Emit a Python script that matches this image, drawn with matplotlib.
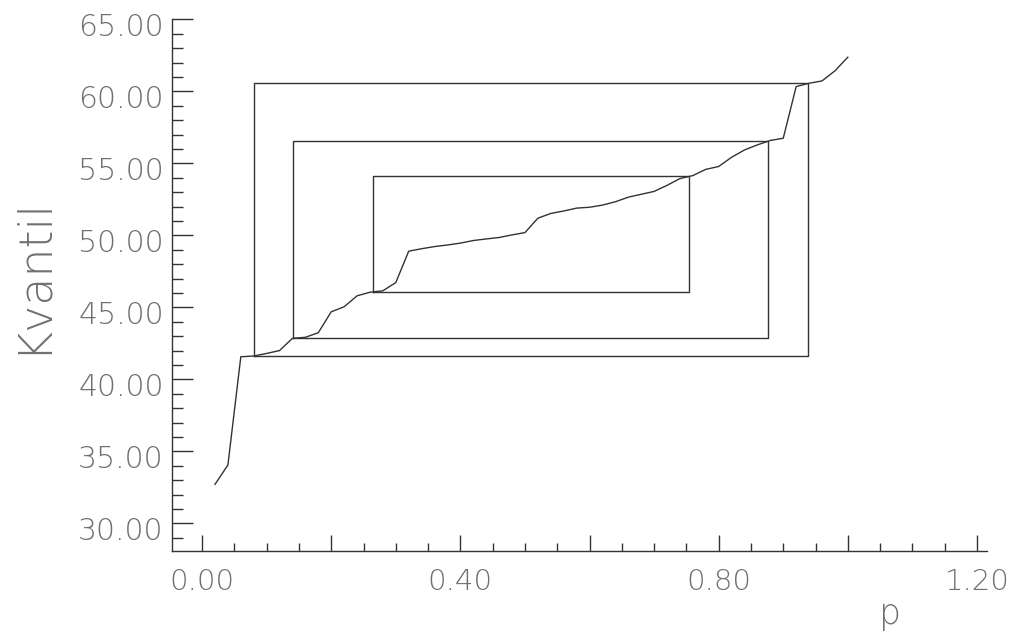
import matplotlib
matplotlib.use("Agg")
import matplotlib.pyplot as plt
import matplotlib.transforms as mtransforms
from matplotlib.ticker import MultipleLocator, FuncFormatter

# empirical quantiles: p = i/50
p = [0.02, 0.04, 0.06, 0.08, 0.10, 0.12, 0.14, 0.16, 0.18, 0.20,
     0.22, 0.24, 0.26, 0.28, 0.30, 0.32, 0.34, 0.36, 0.38, 0.40,
     0.42, 0.44, 0.46, 0.48, 0.50, 0.52, 0.54, 0.56, 0.58, 0.60,
     0.62, 0.64, 0.66, 0.68, 0.70, 0.72, 0.74, 0.76, 0.78, 0.80,
     0.82, 0.84, 0.86, 0.88, 0.90, 0.92, 0.94, 0.96, 0.98, 1.00]
kvantil = [32.71, 34.05, 41.57, 41.62, 41.80, 42.00, 42.85, 42.92, 43.24, 44.69,
           45.04, 45.80, 46.05, 46.15, 46.72, 48.90, 49.07, 49.22, 49.33, 49.46,
           49.64, 49.75, 49.85, 50.03, 50.19, 51.19, 51.52, 51.69, 51.89, 51.95,
           52.10, 52.33, 52.65, 52.85, 53.05, 53.47, 53.94, 54.15, 54.58, 54.78,
           55.42, 55.93, 56.28, 56.59, 56.74, 60.33, 60.56, 60.72, 61.42, 62.37]

# quantile boxes (outer, middle, inner)
box_left = [0.0805, 0.141, 0.265]
box_right = [0.938, 0.876, 0.754]
box_bottom = [41.63, 42.85, 46.08]
box_top = [60.56, 56.55, 54.14]

txt = "#707070"
ink = "#333333"

fig = plt.figure(figsize=(10.15, 6.33), dpi=100)
ax = fig.add_axes([0.1695, 0.1295, 0.8029, 0.84])

ax.plot(p, kvantil, color=ink, lw=1.0)
for l, r, b, t in zip(box_left, box_right, box_bottom, box_top):
    ax.plot([l, r, r, l, l], [b, b, t, t, b], color=ink, lw=1.0)

ax.set_xlim(-0.0465, 1.2155)
ax.set_ylim(28.08, 65.0)

for s in ["top", "right"]:
    ax.spines[s].set_visible(False)
for s in ["left", "bottom"]:
    ax.spines[s].set_color(ink)
    ax.spines[s].set_linewidth(1.0)

ax.xaxis.set_major_locator(MultipleLocator(0.2))
ax.xaxis.set_minor_locator(MultipleLocator(0.05))
ax.yaxis.set_major_locator(MultipleLocator(5))
ax.yaxis.set_minor_locator(MultipleLocator(1))

ax.xaxis.set_major_formatter(FuncFormatter(
    lambda v, pos: f"{v:.2f}" if abs(round(v / 0.4) * 0.4 - v) < 1e-6 else ""))
ax.yaxis.set_major_formatter(FuncFormatter(lambda v, pos: f"{v:.2f}"))

ax.tick_params(axis="y", which="major", direction="in", length=15, width=1,
               color=ink, pad=6, labelsize=21.5, labelcolor=txt)
ax.tick_params(axis="y", which="minor", direction="in", length=8, width=1, color=ink)
ax.tick_params(axis="x", which="major", direction="in", length=11.5, width=1,
               color=ink, pad=12, labelsize=21, labelcolor=txt)
ax.tick_params(axis="x", which="minor", direction="in", length=6, width=1, color=ink)

shift = mtransforms.ScaledTranslation(0, -4 / 72, fig.dpi_scale_trans)
for lab in ax.get_yticklabels():
    lab.set_transform(lab.get_transform() + shift)
for lab in ax.get_xticklabels() + ax.get_yticklabels():
    lab.set_fontweight("light")

fig.text(0.031, 0.565, "Kvantil", rotation=90, ha="center", va="center",
         fontsize=33, color=txt, fontweight="light")
fig.text(0.877, 0.03, "p", ha="center", va="center", fontsize=25,
         color=txt, fontweight="light")

fig.savefig("out.png", dpi=100)
